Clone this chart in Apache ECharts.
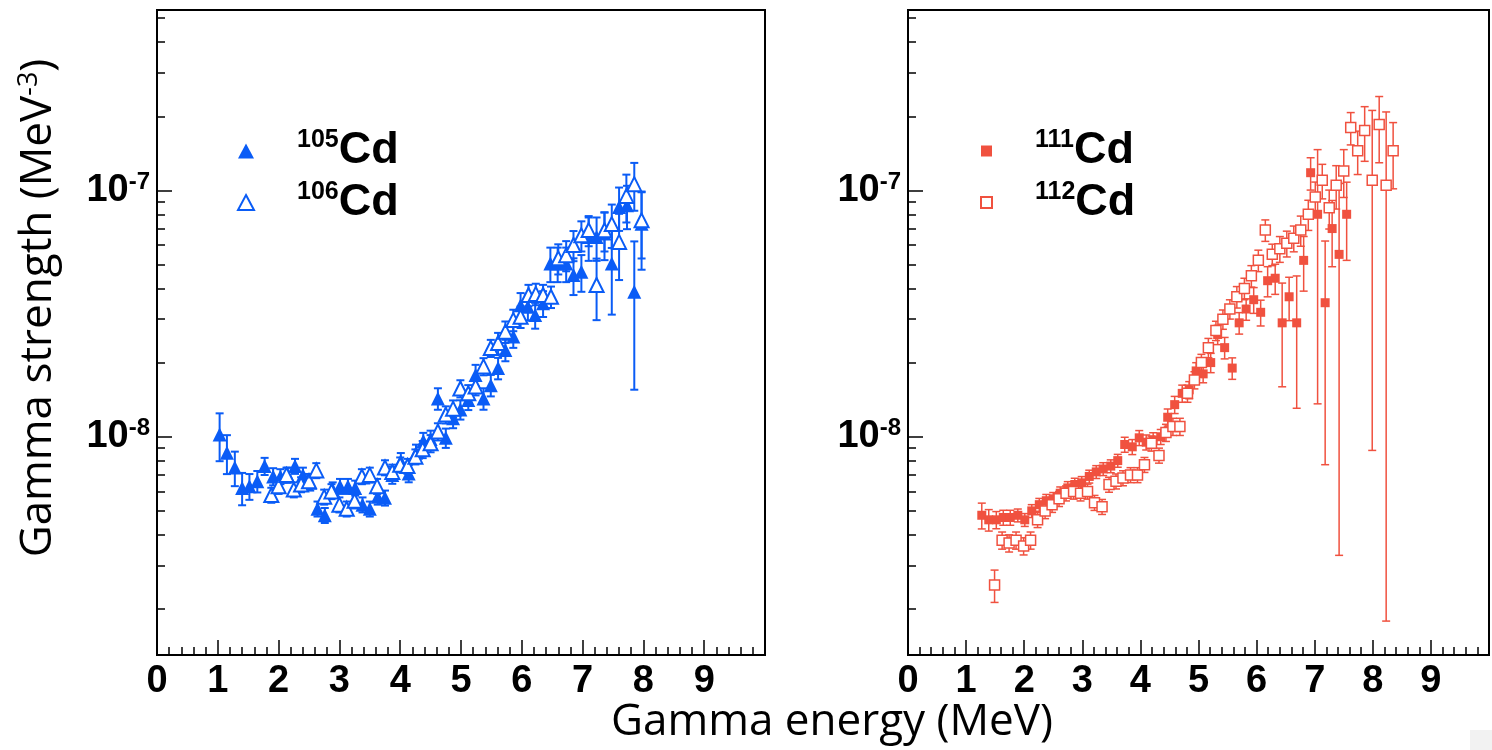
<!DOCTYPE html>
<html><head><meta charset="utf-8">
<script src="https://cdn.jsdelivr.net/npm/echarts@6/dist/echarts.min.js"></script>
<style>html,body{margin:0;padding:0;background:#fff}#c{width:1492px;height:750px}</style>
</head><body><div id="c"></div>
<script>
// ---------- axis ticks ----------
const xTickValues = [0,1,2,3,4,5,6,7,8,9,10];
const yMajorTicks = [1e-8, 1e-7];
const yMinorTicks = [2e-9,3e-9,4e-9,5e-9,6e-9,7e-9,8e-9,9e-9,2e-8,3e-8,4e-8,5e-8,6e-8,7e-8,8e-8,9e-8,2e-7,3e-7,4e-7,5e-7];
const yRange = [1.3e-9, 5.4e-7];
const xRange = [0, 10];

// ---------- 105Cd (filled triangles) ----------
const e105 = [1.03,1.15,1.28,1.40,1.52,1.65,1.77,1.91,2.03,2.15,2.27,2.40,2.52,2.64,2.76,2.89,3.01,3.14,3.26,3.38,3.50,3.63,3.75,3.87,4.01,4.14,4.26,4.38,4.50,4.62,4.75,4.87,4.99,5.12,5.24,5.37,5.49,5.61,5.73,5.86,5.98,6.10,6.22,6.35,6.47,6.59,6.73,6.85,6.98,7.10,7.23,7.36,7.48,7.60,7.73,7.85,7.97];
const v105 = [1.02e-8,8.6e-9,7.5e-9,6.2e-9,6.3e-9,6.6e-9,7.6e-9,6.9e-9,6.9e-9,7.0e-9,7.6e-9,7.0e-9,6.5e-9,5.1e-9,4.8e-9,6.1e-9,6.3e-9,6.3e-9,6.2e-9,5.3e-9,5.1e-9,5.7e-9,5.65e-9,7.0e-9,7.95e-9,7.1e-9,8.6e-9,9.6e-9,9.8e-9,1.43e-8,9.9e-9,1.19e-8,1.29e-8,1.41e-8,1.78e-8,1.43e-8,1.62e-8,1.90e-8,2.25e-8,2.55e-8,3.42e-8,3.37e-8,3.12e-8,3.48e-8,5.05e-8,5.05e-8,5.05e-8,4.53e-8,4.67e-8,6.47e-8,6.47e-8,6.68e-8,5.05e-8,8.56e-8,8.70e-8,3.88e-8,7.33e-8];
const r105 = [.22,.18,.16,.15,.12,.10,.08,.08,.07,.07,.07,.07,.07,.07,.07,.07,.07,.07,.07,.07,.07,.07,.07,.08,.08,.08,.08,.08,.08,.10,.09,.09,.09,.09,.10,.10,.10,.10,.10,.10,.12,.12,.12,.12,.16,.16,.16,.17,.17,.20,.20,.22,.38,.20,.20,.60,.35];

// ---------- 106Cd (open triangles) ----------
const e106 = [1.88,2.00,2.13,2.25,2.37,2.50,2.62,2.75,2.87,3.00,3.12,3.25,3.37,3.50,3.62,3.75,3.87,4.00,4.12,4.25,4.37,4.50,4.62,4.75,4.87,4.99,5.12,5.24,5.37,5.49,5.61,5.73,5.86,5.98,6.11,6.23,6.35,6.48,6.60,6.73,6.85,6.98,7.10,7.23,7.36,7.48,7.60,7.72,7.85,7.97];
const v106 = [5.8e-9,6.3e-9,7.0e-9,6.1e-9,6.4e-9,6.6e-9,7.3e-9,5.7e-9,6.0e-9,5.3e-9,5.1e-9,5.5e-9,6.9e-9,7.0e-9,6.3e-9,7.5e-9,7.2e-9,7.7e-9,7.6e-9,8.3e-9,8.9e-9,9.4e-9,1.05e-8,1.23e-8,1.30e-8,1.57e-8,1.50e-8,1.60e-8,1.93e-8,2.29e-8,2.40e-8,2.67e-8,2.98e-8,3.07e-8,3.76e-8,3.80e-8,3.76e-8,3.70e-8,5.3e-8,5.46e-8,6.0e-8,6.57e-8,6.9e-8,4.13e-8,6.89e-8,7.3e-8,6.18e-8,9.5e-8,1.06e-7,7.56e-8];
const r106 = [.07,.07,.07,.07,.07,.07,.07,.07,.07,.07,.07,.07,.07,.07,.07,.07,.07,.07,.07,.07,.08,.08,.08,.08,.08,.08,.08,.08,.08,.08,.10,.10,.10,.10,.10,.10,.10,.10,.14,.14,.14,.14,.14,.28,.18,.20,.30,.22,.22,.30];

// ---------- 111Cd (filled squares) ----------
const e111 = [1.27,1.39,1.52,1.64,1.76,1.89,2.01,2.13,2.26,2.38,2.50,2.62,2.75,2.87,2.99,3.12,3.24,3.36,3.49,3.61,3.73,3.86,3.98,4.10,4.22,4.35,4.47,4.59,4.72,4.84,4.96,5.08,5.21,5.33,5.45,5.58,5.70,5.82,5.95,6.07,6.19,6.32,6.44,6.56,6.69,6.81,6.93,7.05,7.18,7.30,7.42,7.55];
const v111 = [4.8e-9,4.6e-9,4.6e-9,4.7e-9,4.7e-9,4.8e-9,4.6e-9,5.0e-9,5.3e-9,5.5e-9,5.6e-9,5.9e-9,6.2e-9,6.4e-9,6.5e-9,6.9e-9,7.2e-9,7.4e-9,7.6e-9,8.0e-9,9.3e-9,9.1e-9,9.9e-9,9.5e-9,9.7e-9,1.0e-8,1.2e-8,1.35e-8,1.5e-8,1.55e-8,1.85e-8,1.8e-8,2.0e-8,2.6e-8,2.3e-8,1.9e-8,2.9e-8,3.3e-8,3.6e-8,3.2e-8,4.3e-8,4.4e-8,2.9e-8,3.7e-8,2.9e-8,5.2e-8,1.18e-7,8.0e-8,3.5e-8,7.0e-8,5.5e-8,8.0e-8];
const r111 = [.12,.10,.08,.07,.07,.06,.06,.06,.06,.06,.06,.06,.06,.06,.06,.06,.06,.06,.06,.06,.07,.07,.07,.07,.07,.07,.08,.08,.08,.08,.08,.08,.09,.09,.10,.10,.10,.10,.12,.12,.14,.14,.45,.20,.55,.25,.15,.83,.78,.30,.94,.35];

// ---------- 112Cd (open squares) ----------
const e112 = [1.49,1.62,1.74,1.86,1.99,2.11,2.23,2.36,2.48,2.60,2.72,2.85,2.97,3.09,3.21,3.34,3.46,3.58,3.70,3.83,3.95,4.07,4.19,4.32,4.44,4.56,4.68,4.81,4.93,5.05,5.17,5.30,5.42,5.54,5.66,5.79,5.91,6.03,6.15,6.27,6.40,6.52,6.64,6.76,6.89,7.01,7.13,7.25,7.37,7.50,7.62,7.74,7.86,7.99,8.11,8.23,8.35];
const v112 = [2.5e-9,3.8e-9,3.7e-9,3.8e-9,3.6e-9,3.8e-9,4.6e-9,5.0e-9,5.3e-9,5.6e-9,5.9e-9,6.0e-9,5.9e-9,6.0e-9,5.4e-9,5.2e-9,6.4e-9,6.6e-9,6.8e-9,7.0e-9,7.0e-9,7.7e-9,9.4e-9,8.4e-9,1.04e-8,1.1e-8,1.1e-8,1.5e-8,1.7e-8,2.0e-8,2.3e-8,2.7e-8,3.0e-8,3.3e-8,3.7e-8,4.0e-8,4.5e-8,5.2e-8,6.9e-8,5.5e-8,5.8e-8,6.1e-8,6.4e-8,6.9e-8,8.0e-8,9.4e-8,1.1e-7,8.5e-8,1.05e-7,1.2e-7,1.8e-7,1.45e-7,1.75e-7,1.1e-7,1.85e-7,1.05e-7,1.45e-7];
const r112 = [.15,.08,.08,.08,.08,.08,.07,.07,.07,.07,.07,.07,.07,.07,.07,.07,.07,.07,.07,.07,.07,.07,.07,.07,.08,.08,.08,.08,.08,.08,.09,.09,.09,.09,.10,.10,.10,.10,.10,.10,.12,.12,.12,.14,.14,.15,.16,.18,.20,.22,.15,.20,.25,.92,.30,.983,.30];

const blue = '#0a5cf6';
const red = '#f0513f';
const tickFont = 'Liberation Sans';

const chart = echarts.init(document.getElementById('c'), null, {renderer: 'canvas'});

function pts(E, V) { return E.map((e, i) => [e, V[i]]); }
function errData(E, V, R) { return E.map((e, i) => [e, V[i] * (1 - R[i]), V[i] * (1 + R[i])]); }
function errSeries(E, V, R, color, gi, lw) {
  return {
    type: 'custom', xAxisIndex: gi, yAxisIndex: gi * 2, silent: true, z: 2,
    data: errData(E, V, R), encode: {x: 0, y: [1, 2]},
    renderItem: function (params, api) {
      const x = api.value(0);
      const lo = api.coord([x, api.value(1)]);
      const hi = api.coord([x, api.value(2)]);
      const w = 4;
      const st = {stroke: color, lineWidth: lw};
      return {type: 'group', children: [
        {type: 'line', shape: {x1: lo[0], y1: lo[1], x2: hi[0], y2: hi[1]}, style: st},
        {type: 'line', shape: {x1: lo[0] - w, y1: lo[1], x2: lo[0] + w, y2: lo[1]}, style: st},
        {type: 'line', shape: {x1: hi[0] - w, y1: hi[1], x2: hi[0] + w, y2: hi[1]}, style: st}
      ]};
    }
  };
}

function xAxisCfg(gi) {
  return {
    type: 'value', gridIndex: gi, min: xRange[0], max: xRange[1], interval: 1, position: 'bottom',
    axisLine: {show: true, lineStyle: {color: '#000', width: 2}},
    axisTick: {show: true, inside: true, length: 15, lineStyle: {color: '#000', width: 1.5}},
    minorTick: {show: true, splitNumber: 5, length: 8, lineStyle: {color: '#000', width: 1.5}},
    splitLine: {show: false}, minorSplitLine: {show: false},
    axisLabel: {show: true, margin: 8, color: '#000', fontFamily: tickFont, fontWeight: 'bold', fontSize: 38,
      formatter: v => (v >= 10 ? '' : String(v))}
  };
}
function yMajorCfg(gi) {
  return {
    type: 'log', gridIndex: gi, min: yRange[0], max: yRange[1], logBase: 10, position: 'left', offset: 0,
    axisLine: {show: true, lineStyle: {color: '#000', width: 2}},
    axisTick: {show: true, inside: true, length: 15, customValues: yMajorTicks, lineStyle: {color: '#000', width: 1.5}},
    splitLine: {show: false}, minorTick: {show: false},
    axisLabel: {show: true, margin: 7, customValues: yMajorTicks,
      formatter: v => '{b|10}{s|' + Math.round(Math.log10(v)) + '}',
      rich: {
        b: {fontFamily: tickFont, fontWeight: 'bold', fontSize: 38, lineHeight: 40, color: '#000'},
        s: {fontFamily: tickFont, fontWeight: 'bold', fontSize: 24, lineHeight: 28, verticalAlign: 'top', color: '#000'}
      }}
  };
}
function yMinorCfg(gi) {
  return {
    type: 'log', gridIndex: gi, min: yRange[0], max: yRange[1], logBase: 10, position: 'left', offset: 0,
    axisLine: {show: false}, splitLine: {show: false},
    axisTick: {show: true, inside: true, length: 8, customValues: yMinorTicks, lineStyle: {color: '#000', width: 1.5}},
    axisLabel: {show: false}
  };
}

const legendRich = {
  sp: {width: 38},
  sup: {fontFamily: tickFont, fontWeight: 'bold', fontSize: 25, lineHeight: 10, verticalAlign: 'top', color: '#000'},
  b: {fontFamily: tickFont, fontWeight: 'bold', fontSize: 45, lineHeight: 46, color: '#000'}
};
const legendFmt = name => '{sp| }{sup|' + name.replace('Cd', '') + '}{b|Cd}';

const option = {
  backgroundColor: '#fff',
  animation: false,
  grid: [
    {left: 157, top: 10, width: 608, height: 645, show: true, borderColor: '#000', borderWidth: 2, containLabel: false},
    {left: 908, top: 10, width: 606, height: 645, show: true, borderColor: '#000', borderWidth: 2, containLabel: false}
  ],
  xAxis: [xAxisCfg(0), xAxisCfg(1)],
  yAxis: [yMajorCfg(0), yMinorCfg(0), yMajorCfg(1), yMinorCfg(1)],
  legend: [
    {data: ['105Cd', '106Cd'], orient: 'vertical', left: 232, top: 123, itemWidth: 16, itemHeight: 15, itemGap: 6,
      selectedMode: false, formatter: legendFmt, textStyle: {rich: legendRich}},
    {data: ['111Cd', '112Cd'], orient: 'vertical', left: 975, top: 123, itemWidth: 11, itemHeight: 11, itemGap: 6,
      selectedMode: false, formatter: legendFmt, textStyle: {rich: legendRich}}
  ],
  graphic: [
    {type: 'text', x: 832, y: 722, style: {text: 'Gamma energy (MeV)', fill: '#000', fontFamily: 'Open Sans', fontSize: 44, align: 'center', verticalAlign: 'middle'}},
    {type: 'text', x: 38, y: 308, rotation: Math.PI / 2,
      style: {text: 'Gamma strength (MeV{s|-3})', fill: '#000', fontFamily: 'Open Sans', fontSize: 44, align: 'center', verticalAlign: 'middle',
        rich: {s: {fontFamily: 'Open Sans', fontSize: 27, lineHeight: 14, verticalAlign: 'top', fill: '#000'}}}},
    {type: 'rect', shape: {x: 1470, y: 730, width: 22, height: 20}, style: {fill: '#f2f2f2'}}
  ],
  series: [
    errSeries(e105, v105, r105, blue, 0, 2),
    errSeries(e106, v106, r106, blue, 0, 2),
    errSeries(e111, v111, r111, red, 1, 1.5),
    errSeries(e112, v112, r112, red, 1, 1.5),
    {name: '105Cd', type: 'scatter', xAxisIndex: 0, yAxisIndex: 0, symbol: 'triangle', symbolSize: 14, z: 3,
      itemStyle: {color: blue, opacity: 1}, data: pts(e105, v105)},
    {name: '106Cd', type: 'scatter', xAxisIndex: 0, yAxisIndex: 0, symbol: 'triangle', symbolSize: 14, z: 3,
      itemStyle: {color: '#fff', borderColor: blue, borderWidth: 2, opacity: 1}, data: pts(e106, v106)},
    {name: '111Cd', type: 'scatter', xAxisIndex: 1, yAxisIndex: 2, symbol: 'rect', symbolSize: 9, z: 3,
      itemStyle: {color: red, opacity: 1}, data: pts(e111, v111)},
    {name: '112Cd', type: 'scatter', xAxisIndex: 1, yAxisIndex: 2, symbol: 'rect', symbolSize: 10, z: 3,
      itemStyle: {color: '#fff', borderColor: red, borderWidth: 1.5, opacity: 1}, data: pts(e112, v112)}
  ]
};
chart.setOption(option);
</script>
</body></html>
